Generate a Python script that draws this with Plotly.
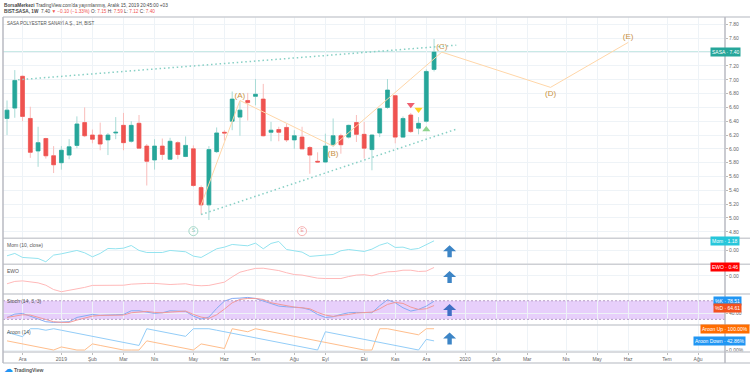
import pandas as pd
import plotly.graph_objects as go
from plotly.subplots import make_subplots

# ---------- data ----------
bar_start = "2018-11-19"
bar_count = 56
opens = [6.44,6.59,7.05,6.44,5.97,6.15,5.90,5.80,5.91,6.05,6.38,6.20,6.20,6.13,6.23,6.34,6.11,6.37,6.04,5.84,6.04,5.85,6.09,5.89,6.00,5.44,5.19,5.96,6.24,6.40,
         6.46,6.70,6.76,6.72,6.24,6.28,6.31,6.13,6.17,6.02,5.82,5.81,6.06,6.19,6.17,6.38,6.21,5.99,6.23,6.60,6.77,6.17,6.49,6.30,6.40,7.15]
highs = [6.70,7.14,7.06,6.61,6.32,6.16,6.04,6.04,6.14,6.47,6.60,6.28,6.38,6.23,6.46,6.52,6.40,6.49,6.07,6.14,6.15,6.16,6.11,6.18,6.05,5.47,6.04,6.31,6.27,6.83,
         6.69,6.81,7.01,6.94,6.39,6.32,6.36,6.27,6.32,6.04,5.95,6.22,6.44,6.22,6.35,6.49,6.39,6.21,6.59,7.01,6.78,6.47,6.52,6.46,7.15,7.59]
lows  = [6.20,6.45,6.40,5.87,5.74,5.86,5.65,5.70,5.85,6.01,6.17,6.08,5.98,5.91,6.14,5.98,6.09,6.01,5.47,5.70,5.84,5.84,5.85,5.88,5.45,5.05,4.97,5.94,6.12,6.27,
         6.19,6.41,6.63,6.18,6.11,6.11,6.10,6.00,6.00,5.64,5.80,5.80,6.03,5.93,6.15,6.10,5.86,5.69,6.17,6.58,6.08,6.16,6.23,6.21,6.38,7.12]
closes= [6.56,6.99,6.47,5.95,6.09,5.90,5.77,5.98,6.03,6.36,6.19,6.14,6.07,6.20,6.24,6.09,6.34,6.01,5.82,6.04,5.92,6.11,5.92,6.05,5.47,5.19,5.99,6.23,6.23,6.72,
         6.56,6.67,6.79,6.19,6.27,6.24,6.13,6.19,6.00,5.91,5.81,6.04,6.19,6.06,6.34,6.21,6.01,6.20,6.58,6.85,6.17,6.44,6.25,6.37,7.12,7.40]

mom = [-0.72,-0.42,-0.93,-0.97,-1.06,-1.48,-0.63,-0.47,-0.30,-0.04,-0.34,-0.85,-0.42,0.21,0.17,0.25,0.59,-0.04,-0.30,-0.30,-0.30,-0.04,-0.13,-0.21,-0.76,-0.93,-0.38,0.17,0.38,0.72,0.63,0.55,
       0.89,0.17,0.85,1.10,0.08,-0.08,-0.25,-0.80,-0.76,-0.63,-0.55,-0.08,0.08,-0.04,-0.17,0.13,0.63,0.93,0.34,0.38,0.08,0.21,0.72,1.18]
ewo = [-0.44,-0.31,-0.28,-0.35,-0.39,-0.52,-0.76,-0.88,-0.81,-0.74,-0.64,-0.53,-0.53,-0.53,-0.53,-0.52,-0.46,-0.42,-0.42,-0.42,-0.46,-0.48,-0.46,-0.44,-0.52,-0.55,-0.53,-0.42,-0.35,-0.06,0.20,0.31,
       0.41,0.42,0.35,0.29,0.17,0.07,0.04,-0.06,-0.13,-0.15,-0.15,-0.15,-0.04,0.04,0.06,0.00,0.13,0.22,0.24,0.31,0.31,0.24,0.26,0.46]
stoch_k = [26.2,37.0,39.1,30.5,19.8,12.3,10.1,11.2,12.3,26.2,31.6,35.9,32.7,32.7,34.8,35.9,47.7,47.7,44.5,39.1,41.3,47.7,46.7,45.6,30.5,20.9,27.3,55.3,78.9,87.5,88.6,90.8,
           87.5,78.9,70.3,62.8,60.6,58.5,57.4,51.0,35.9,26.2,28.4,35.9,41.3,42.4,42.4,41.3,63.9,83.2,73.5,57.4,46.7,52.0,62.8,78.51]
stoch_d = [26.2,31.6,34.8,33.8,26.2,17.6,12.3,10.1,10.1,17.6,25.2,30.5,32.7,32.7,33.8,33.8,41.3,44.5,45.6,42.4,41.3,43.4,45.6,46.7,35.9,27.3,23.0,34.8,53.1,73.5,84.3,87.5,
           87.5,84.3,73.5,68.2,62.8,59.6,57.4,54.2,42.4,33.8,29.5,31.6,35.9,40.2,41.3,43.4,54.2,68.2,74.6,71.4,59.6,52.0,54.2,64.61]
aroon_up = [42.9,35.7,28.6,21.4,14.3,7.1,0,14.3,7.1,0,0,28.6,21.4,14.3,7.1,0,0,0,42.9,35.7,28.6,21.4,14.3,7.1,0,28.6,21.4,14.3,7.1,100,92.9,85.7,
            100,92.9,85.7,78.6,71.4,64.3,57.1,50,42.9,35.7,28.6,21.4,14.3,7.1,0,0,100,100,92.9,85.7,78.6,71.4,100,100]
aroon_down = [83,73,62.5,100,100,92.9,100,92.9,85.7,78.6,71.4,64.3,57.1,50,42.9,35.7,28.6,21.4,100,92.9,85.7,78.6,71.4,64.3,100,100,100,92.9,85.7,78.6,71.4,64.3,
              57.1,50,42.9,35.7,28.6,21.4,14.3,7.1,0,85.7,78.6,71.4,64.3,57.1,50,42.9,35.7,28.6,21.4,14.3,7.1,0,50,42.86]

upper_dates = ["2018-11-29","2019-12-29"]
upper_vals = [7.00,7.50]
lower_dates = ["2019-05-13","2019-12-30"]
lower_vals = [5.05,6.29]
wave_dates = ["2019-05-13","2019-06-17","2019-09-09","2019-12-16","2020-03-23","2020-06-01"]
wave_vals = [5.19,6.70,6.04,7.40,6.89,7.54]
wave_label_dates = ["2019-06-17","2019-09-09","2019-12-16","2020-03-23","2020-06-01"]
wave_label_vals = [6.77,5.93,7.47,6.79,7.62]
wave_labels = ["(A)","(B)","(C)","(D)","(E)"]

month_dates = ["2018-12-03","2019-01-07","2019-02-04","2019-03-04","2019-04-01","2019-05-06","2019-06-03","2019-07-01","2019-08-05","2019-09-02",
               "2019-10-07","2019-11-04","2019-12-02","2020-01-06","2020-02-03","2020-03-02","2020-04-06","2020-05-04","2020-06-01","2020-07-06","2020-08-03"]
month_labels = ["Ara","2019","Şub","Mar","Nis","May","Haz","Tem","Ağu","Eyl","Eki","Kas","Ara","2020","Şub","Mar","Nis","May","Haz","Tem","Ağu"]
price_ticks = [4.8,5.0,5.2,5.4,5.6,5.8,6.0,6.2,6.4,6.6,6.8,7.0,7.2,7.4,7.6,7.8]
last_price = 7.40
arrow_date = "2019-12-23"

# ---------- page geometry ----------
W, H = 750, 377
L, R, T, BOT = 2.5, 725.0, 16.5, 352.0
panes = [221.5, 26, 30, 31, 27]
FONT = "Liberation Sans"
def px(x): return (x - L) / (R - L)
def py(y): return (BOT - y) / (BOT - T)

dates = pd.date_range(bar_start, periods=bar_count, freq="7D")
x_range = ["2018-11-15 09:00", "2020-08-27 07:00"]
body_tops = [max(o, c) for o, c in zip(opens, closes)]
body_bottoms = [min(o, c) for o, c in zip(opens, closes)]

fig = make_subplots(rows=5, cols=1, shared_xaxes=True, vertical_spacing=0, row_heights=panes)

dots = "1.5px,2.8px"
fig.add_trace(go.Scatter(x=upper_dates, y=upper_vals, mode="lines",
                         line=dict(color="#86CFC4", width=1.5, dash=dots)), row=1, col=1)
fig.add_trace(go.Scatter(x=lower_dates, y=lower_vals, mode="lines",
                         line=dict(color="#86CFC4", width=1.5, dash=dots)), row=1, col=1)
# wicks (pale), then solid bodies on top
fig.add_trace(go.Candlestick(x=dates, open=opens, high=highs, low=lows, close=closes,
    increasing=dict(fillcolor="#A8DBD6", line=dict(color="#A8DBD6", width=1)),
    decreasing=dict(fillcolor="#F9BDBB", line=dict(color="#F9BDBB", width=1)),
    whiskerwidth=0), row=1, col=1)
fig.add_trace(go.Candlestick(x=dates, open=opens, high=body_tops, low=body_bottoms, close=closes,
    increasing=dict(fillcolor="#26A69A", line=dict(color="#26A69A", width=0.6)),
    decreasing=dict(fillcolor="#EF5350", line=dict(color="#EF5350", width=0.6)),
    whiskerwidth=0), row=1, col=1)
fig.add_trace(go.Scatter(x=wave_dates, y=wave_vals, mode="lines",
                         line=dict(color="#FFD6A8", width=1)), row=1, col=1)
fig.add_trace(go.Scatter(x=wave_label_dates, y=wave_label_vals, mode="text", text=wave_labels,
                         textfont=dict(family=FONT, size=8, color="#C8923F")), row=1, col=1)
fig.add_trace(go.Scatter(x=["2019-05-06"], y=[4.81], mode="markers+text", text=["S"],
                         marker=dict(symbol="circle-open", size=9, color="#A5D9C8", line=dict(width=1)),
                         textfont=dict(family=FONT, size=5, color="#86C9B4")), row=1, col=1)
fig.add_trace(go.Scatter(x=["2019-08-12"], y=[4.81], mode="markers+text", text=["E"],
                         marker=dict(symbol="circle-open", size=9, color="#F7B5B5", line=dict(width=1)),
                         textfont=dict(family=FONT, size=5, color="#EE9A9A")), row=1, col=1)
fig.add_trace(go.Scatter(x=["2019-11-18"], y=[6.64], mode="markers",
                         marker=dict(symbol="triangle-down", size=7, color="#EF6070")), row=1, col=1)
fig.add_trace(go.Scatter(x=["2019-11-25"], y=[6.57], mode="markers",
                         marker=dict(symbol="triangle-down", size=7, color="#FFD21E")), row=1, col=1)
fig.add_trace(go.Scatter(x=["2019-12-02"], y=[6.28], mode="markers",
                         marker=dict(symbol="triangle-up", size=7, color="#8FD48F")), row=1, col=1)

fig.add_trace(go.Scatter(x=dates, y=mom, mode="lines", line=dict(color="#93E3EF", width=1)), row=2, col=1)
fig.add_trace(go.Scatter(x=dates, y=ewo, mode="lines", line=dict(color="#FFB9B9", width=1)), row=3, col=1)
fig.add_trace(go.Scatter(x=dates, y=stoch_k, mode="lines", line=dict(color="#85ABF3", width=1)), row=4, col=1)
fig.add_trace(go.Scatter(x=dates, y=stoch_d, mode="lines", line=dict(color="#F29A9A", width=1)), row=4, col=1)
fig.add_trace(go.Scatter(x=dates, y=aroon_up, mode="lines", line=dict(color="#FFBE8C", width=1)), row=5, col=1)
fig.add_trace(go.Scatter(x=dates, y=aroon_down, mode="lines", line=dict(color="#93CDF8", width=1)), row=5, col=1)

fig.update_traces(hoverinfo="skip")

grid = "#EEF3F7"
for r in range(1, 6):
    fig.update_xaxes(row=r, col=1, type="date", range=x_range, tickmode="array", tickvals=month_dates,
                     ticktext=month_labels, showgrid=True, gridcolor=grid, gridwidth=1, zeroline=False,
                     showline=False, rangeslider=dict(visible=False),
                     tickfont=dict(family=FONT, size=5, color="#666"), ticks="outside" if r == 5 else "",
                     ticklen=2, tickcolor="#BBB", showticklabels=(r == 5))

price_text = ["" if v == last_price else f"{v:.2f}" for v in price_ticks]
y_specs = [
    (1, [4.708, 7.908], price_ticks, price_text),
    (2, [-1.78, 1.52], [0], ["0.00"]),
    (3, [-1.01, 0.646], [0], ["0.00"]),
    (4, [1.6, 101.6], [40], ["40.00"]),
    (5, [-9.4, 117.3], [0], ["0.00%"]),
]
for r, rng, tv, tt in y_specs:
    fig.update_yaxes(row=r, col=1, range=rng, side="right", tickmode="array", tickvals=tv, ticktext=tt,
                     showgrid=True, gridcolor=grid, gridwidth=1, zeroline=False, showline=False,
                     ticks="outside", ticklen=2, tickcolor="#BBB",
                     tickfont=dict(family=FONT, size=5, color="#666"))

shapes = [
    dict(type="line", xref="paper", x0=0, x1=1, yref="y", y0=last_price, y1=last_price,
         line=dict(color="rgba(38,166,154,0.25)", width=2), layer="below"),
    dict(type="rect", xref="paper", x0=0, x1=1, yref="y4", y0=20, y1=80,
         fillcolor="#E7CFFB", line=dict(width=0), layer="below"),
    dict(type="line", xref="paper", x0=0, x1=1, yref="y4", y0=80, y1=80,
         line=dict(color="#B49AC4", width=1, dash="2px,2px")),
    dict(type="line", xref="paper", x0=0, x1=1, yref="y4", y0=20, y1=20,
         line=dict(color="#B49AC4", width=1, dash="2px,2px")),
]
sep = "#CDCFD4"
for y in (16.5, 238, 264, 294, 325, 352, 363):
    shapes.append(dict(type="line", xref="paper", yref="paper", x0=0, x1=px(750), y0=py(y), y1=py(y),
                       line=dict(color=sep, width=1.5)))
for xp in (0, 1):
    shapes.append(dict(type="line", xref="paper", yref="paper", x0=xp, x1=xp, y0=py(363), y1=1,
                       line=dict(color="#B8BAC2", width=1.5)))
# up arrows beside the last bars of each indicator pane
arrow_path = "M 0 0 L 6.5 -6 L 2.2 -6 L 2.2 -12 L -2.2 -12 L -2.2 -6 L -6.5 -6 Z"
for xref, yref, tip, col in [("x2", "y2", 0.63, "#3D85C6"), ("x3", "y3", 0.26, "#3D85C6"),
                             ("x4", "y4", 69.2, "#3F6FC4"), ("x5", "y5", 82.8, "#3D85C6")]:
    shapes.append(dict(type="path", xref=xref, yref=yref, xsizemode="pixel", ysizemode="pixel",
                       xanchor=arrow_date, yanchor=tip, path=arrow_path, fillcolor=col, line=dict(width=0)))
fig.update_layout(shapes=shapes)

def note(x, y, text, size=5, color="#555", anchor="left", **kw):
    fig.add_annotation(xref="paper", yref="paper", x=px(x), y=py(y), text=text, showarrow=False,
                       xanchor=anchor, yanchor="middle", font=dict(family=FONT, size=size, color=color), **kw)

red = "#EF5350"
note(1, 5, "<b>BorsaMerkezi</b> TradingView.com'da yayımlanmış, Aralık 15, 2019 20:45:00 +03", size=4.7, color="#444")
note(1, 11, f"<b>BIST:SASA, 1W</b>  7.40 <span style='color:{red}'>▼ −0.10 (−1.33%)</span> "
            f"O: <span style='color:{red}'>7.15</span> H: <span style='color:{red}'>7.59</span> "
            f"L: <span style='color:{red}'>7.12</span> C: <span style='color:{red}'>7.40</span>", size=4.7, color="#444")
note(5, 22.5, "SASA POLYESTER SANAYİ A.Ş., 1H, BIST", size=4.5)
note(5, 244.5, "Mom (10, close)")
note(5, 270.5, "EWO")
note(5, 300.5, "Stoch (14, 3, 3)")
note(5, 332, "Aroon (14)")
note(12, 370, "<b>TradingView</b>", size=5, color="#555")
note(1, 369.5, "☁", size=9, color="#2196F3")

for cx, cy, txt, col in [
    (725, 52, "SASA · 7.40", "#26A69A"),
    (725, 240.7, "Mom · 1.18", "#26C6DA"),
    (725, 267, "EWO · 0.46", "#FF0000"),
    (728, 300.7, "%K · 78.51", "#2196F3"),
    (728, 307.7, "%D · 64.61", "#F4511E"),
    (724.5, 328.7, "Aroon Up · 100.00%", "#FF6D00"),
    (719.5, 341, "Aroon Down · 42.86%", "#2196F3"),
]:
    note(cx, cy, txt, size=5, color="white", anchor="center", bgcolor=col, borderpad=1)

fig.update_layout(width=W, height=H, autosize=False, showlegend=False,
                  margin=dict(l=L, r=W - R, t=T, b=H - BOT, pad=0),
                  paper_bgcolor="white", plot_bgcolor="white", hovermode=False)

fig.write_html("out.html", post_script="document.body.style.margin='0';", config={"displayModeBar": False})
